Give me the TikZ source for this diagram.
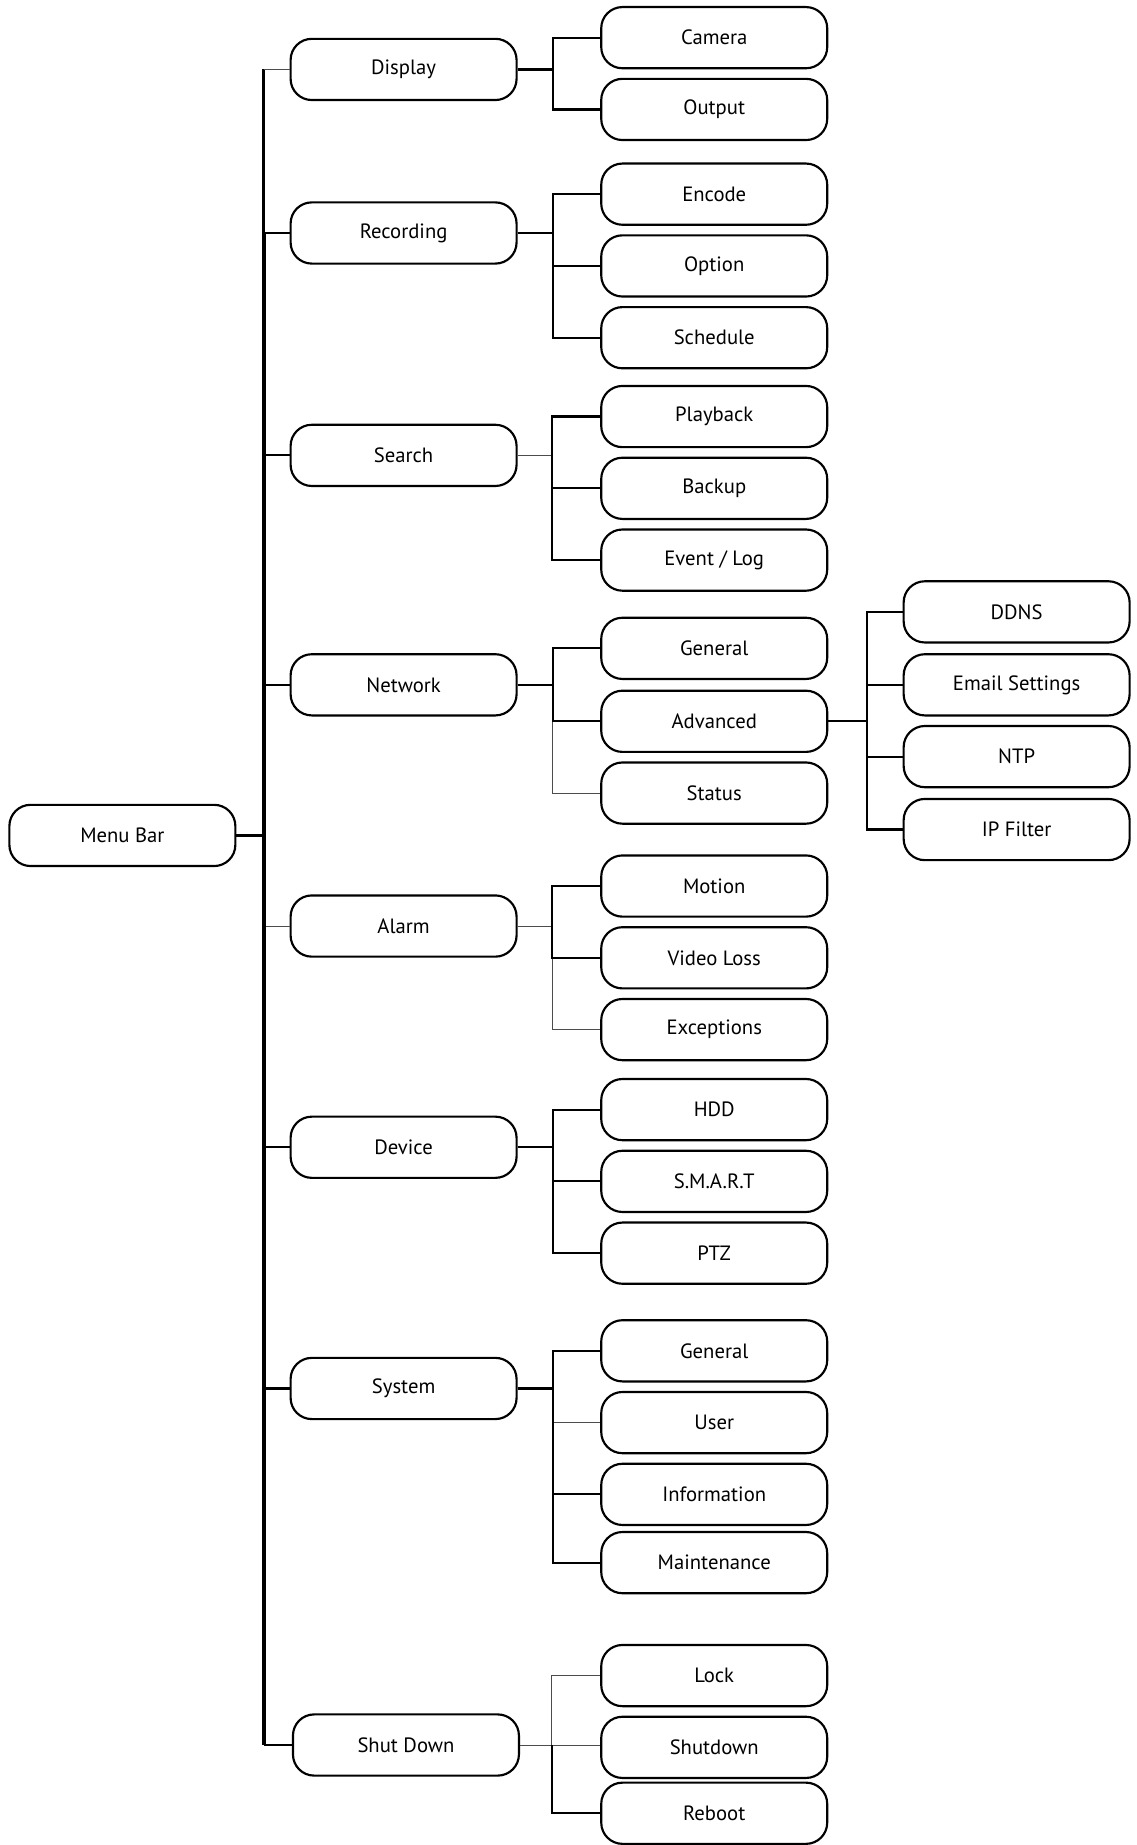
\documentclass[tikz,border=0pt]{standalone}
\usepackage{fontspec}
\setmainfont{PT Sans}
\usetikzlibrary{positioning}

\begin{document}
\begin{tikzpicture}[x=0.025cm, y=-0.025cm,
    % Node styles
    menu/.style={draw, line width=1.3pt, rounded corners=0.45cm, fill=white, minimum width=4.8cm, minimum height=1.3cm, align=center, font=\fontsize{12.5}{15}\selectfont},
    link/.style={line width=1.3pt},
    thinlink/.style={line width=0.6pt, color=black!70}
]
\useasboundingbox (0,0) rectangle (966,1568);

% Root
\node[menu] (menubar) at (104, 710) {Menu Bar};

% First level
\node[menu] (display) at (343, 59) {Display};
\node[menu] (recording) at (343, 198) {Recording};
\node[menu] (search) at (343, 387) {Search};
\node[menu] (network) at (343, 582) {Network};
\node[menu] (alarm) at (343, 787) {Alarm};
\node[menu] (device) at (343, 975) {Device};
\node[menu] (system) at (343, 1180) {System};
\node[menu] (shutdown) at (345, 1483) {Shut Down};

% Second level
\node[menu] (camera) at (607, 32) {Camera};
\node[menu] (output) at (607, 93) {Output};
\node[menu] (encode) at (607, 165) {Encode};
\node[menu] (option) at (607, 226) {Option};
\node[menu] (schedule) at (607, 287) {Schedule};
\node[menu] (playback) at (607, 354) {Playback};
\node[menu] (backup) at (607, 415) {Backup};
\node[menu] (eventlog) at (607, 476) {Event / Log};
\node[menu] (netgeneral) at (607, 551) {General};
\node[menu] (advanced) at (607, 613) {Advanced};
\node[menu] (status) at (607, 674) {Status};
\node[menu] (motion) at (607, 753) {Motion};
\node[menu] (videoloss) at (607, 814) {Video Loss};
\node[menu] (exceptions) at (607, 875) {Exceptions};
\node[menu] (hdd) at (607, 943) {HDD};
\node[menu] (smart) at (607, 1004) {S.M.A.R.T};
\node[menu] (ptz) at (607, 1065) {PTZ};
\node[menu] (sysgeneral) at (607, 1148) {General};
\node[menu] (user) at (607, 1209) {User};
\node[menu] (information) at (607, 1270) {Information};
\node[menu] (maintenance) at (607, 1328) {Maintenance};
\node[menu] (lock) at (607, 1424) {Lock};
\node[menu] (shutdownitem) at (607, 1485) {Shutdown};
\node[menu] (reboot) at (607, 1541) {Reboot};

% Third level (Advanced)
\node[menu] (ddns) at (864, 520) {DDNS};
\node[menu] (email) at (864, 582) {Email Settings};
\node[menu] (ntp) at (864, 643) {NTP};
\node[menu] (ipfilter) at (864, 705) {IP Filter};

% Trunk
\coordinate (trunk) at (224, 59);
\draw[link] (trunk) -- (trunk |- shutdown.west);

% Thin branches
\draw[thinlink] (trunk) -- (display.west);
\draw[thinlink] (menubar.east) -- ++(24,0) |- (alarm.west);
\draw[thinlink] (search.east) -- ++(30,0) |- (playback.west);
\draw[thinlink] (network.east) -- ++(30,0) |- (status.west);
\draw[thinlink] (alarm.east) -- ++(30,0) |- (exceptions.west);
\draw[thinlink] (system.east) -- ++(30,0) |- (user.west);
\draw[thinlink] (shutdown.east -| 469,0) |- (lock.west);
\draw[thinlink] (shutdown.east) -- (shutdown.east -| shutdownitem.west);

% From the menu bar
\draw[link] (menubar.east) -- ++(24,0) |- (recording.west);
\draw[link] (menubar.east) -- ++(24,0) |- (search.west);
\draw[link] (menubar.east) -- ++(24,0) |- (network.west);
\draw[link] (menubar.east) -- ++(24,0) |- (device.west);
\draw[link] (menubar.east) -- ++(24,0) |- (system.west);
\draw[link] (menubar.east) -- ++(24,0) |- (shutdown.west);

% Display and Recording
\draw[link] (display.east) -- ++(30,0) |- (camera.west);
\draw[link] (display.east) -- ++(30,0) |- (output.west);
\draw[link] (recording.east) -- ++(30,0) |- (encode.west);
\draw[link] (recording.east) -- ++(30,0) |- (option.west);
\draw[link] (recording.east) -- ++(30,0) |- (schedule.west);

% Search
\draw[link] (search.east -| 469,0) |- (playback.west);
\draw[link] (search.east -| 469,0) |- (backup.west);
\draw[link] (search.east -| 469,0) |- (eventlog.west);

% Network and Advanced
\draw[link] (network.east) -- ++(30,0) |- (netgeneral.west);
\draw[link] (network.east) -- ++(30,0) |- (advanced.west);
\draw[link] (advanced.east) -- ++(33,0) |- (ddns.west);
\draw[link] (advanced.east) -- ++(33,0) |- (email.west);
\draw[link] (advanced.east) -- ++(33,0) |- (ntp.west);
\draw[link] (advanced.east) -- ++(33,0) |- (ipfilter.west);

% Alarm
\draw[link] (alarm.east -| 469,0) |- (motion.west);
\draw[link] (alarm.east -| 469,0) |- (videoloss.west);

% Device
\draw[link] (device.east) -- ++(30,0) |- (hdd.west);
\draw[link] (device.east) -- ++(30,0) |- (smart.west);
\draw[link] (device.east) -- ++(30,0) |- (ptz.west);

% System
\draw[link] (system.east) -- ++(30,0) |- (sysgeneral.west);
\draw[link] (system.east) -- ++(30,0) |- (information.west);
\draw[link] (system.east) -- ++(30,0) |- (maintenance.west);

% Shut Down
\draw[link] (shutdown.east -| 469,0) |- (reboot.west);

\end{tikzpicture}
\end{document}
